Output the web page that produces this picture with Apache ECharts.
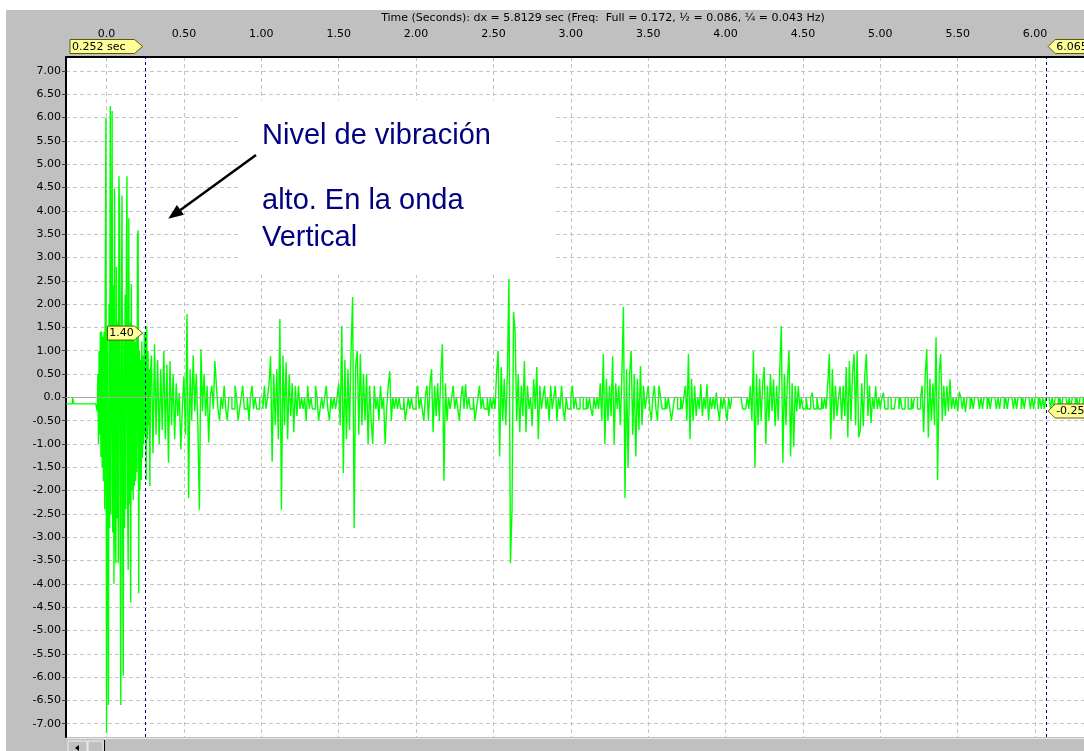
<!DOCTYPE html>
<html><head><meta charset="utf-8">
<script src="https://cdn.jsdelivr.net/npm/echarts@6/dist/echarts.min.js"></script>
<style>html,body{margin:0;padding:0;background:#fff}#c{width:1084px;height:751px}</style>
</head><body><div id="c"></div>
<script>
// ---------- axis ranges & ticks ----------
const xMin = -0.262, xMax = 6.316;
const yMin = -7.285, yMax = 7.30;
const xTicks = [0, 0.5, 1, 1.5, 2, 2.5, 3, 3.5, 4, 4.5, 5, 5.5, 6];
const xTickLabels = ['0.0','0.50','1.00','1.50','2.00','2.50','3.00','3.50','4.00','4.50','5.00','5.50','6.00'];
const yTicks = [7, 6.5, 6, 5.5, 5, 4.5, 4, 3.5, 3, 2.5, 2, 1.5, 1, 0.5, 0, -0.5, -1, -1.5, -2, -2.5, -3, -3.5, -4, -4.5, -5, -5.5, -6, -6.5, -7];
const yTickLabels = ['7.00','6.50','6.00','5.50','5.00','4.50','4.00','3.50','3.00','2.50','2.00','1.50','1.00','0.50','0.0','-0.50','-1.00','-1.50','-2.00','-2.50','-3.00','-3.50','-4.00','-4.50','-5.00','-5.50','-6.00','-6.50','-7.00'];
const axisTitle = 'Time (Seconds): dx = 5.8129 sec (Freq:  Full = 0.172, \u00bd = 0.086, \u00bc = 0.043 Hz)';

// ---------- cursors ----------
const cursorTimes = [0.252, 6.065];
const cursorTimeLabels = ['0.252 sec', '6.065 sec'];
const cursorValues = [1.40, -0.25];
const cursorValueLabels = ['1.40', '-0.25'];

// ---------- annotation ----------
const noteLines = ['Nivel de vibración', 'alto. En la onda', 'Vertical'];

// ---------- waveform samples (amplitude) ----------
const sampleStep = 0.01;    // s, most segments
const impactStep = 0.004;   // s, dense impact segment
const preTrigger = [-0.14,-0.14,-0.14,-0.14,0.0,-0.14,-0.14,-0.14,-0.14,-0.14,-0.14,-0.14,-0.14,-0.14,-0.14,-0.14,-0.14,-0.14,-0.14,-0.14];
const impact = [-0.3,0.5,-1.0,1.0,-0.8,1.4,-1.28,1.42,-1.5,1.3,-1.8,1.4,-2.4,2.6,6.0,-7.2,1.5,-2.6,-6.6,2.0,-2.8,6.25,-2.5,1.8,6.14,-2.9,2.4,-4.0,4.48,-2.7,-3.56,2.8,-2.6,1.6,-3.56,4.74,3.94,-2.8,-6.6,1.9,4.33,-2.6,-5.97,1.5,-2.8,2.2,-2.4,2.9,4.74,-2.2,-3.7,3.84,-2.3,1.6,-4.4,2.43,-2.0,1.5,-2.2,1.4,-1.9,1.2,-1.8,1.3,-1.6,3.45,3.58,-4.2,1.0,-2.0,0.8,-1.77,1.2,-1.3,0.9,-1.0,1.4,-0.8,1.4,-1.77,1.53,-0.9,1.0,-0.6,0.6,-1.9,0.5];
const tail = [0.9,-1.2,1.14,-0.8,0.8,-1.0,0.6,-0.7,1.0,-0.9,0.7,-1.4,0.78,-0.6,0.5,-0.9,0.3,-0.4,0.1,-1.12,-0.2,0.45,-0.8,1.79,-2.16,0.6,-0.5,0.9,-0.3,0.5,-0.6,-2.41,1.03,-0.3,0.5,-0.4,0.25,-0.97,0.0,0.25,-0.25,0.78];
const noise1 = [0.25,-0.25,-0.5,0,-0.25,0.25,-0.25,-0.5,0,0,-0.25,-0.25,0.25,0,-0.5,-0.25,0,0.25,-0.25,-0.25,0,-0.5,0,0.25,-0.25,0,-0.25,-0.25,0,0,-0.25,0.25,-0.25,0];
const burst2 = [0.3,0.88,-1.38,0.5,-0.6,0.6,-0.9,1.68,-2.41,0.9,-0.6,0.75,-0.9,0.5,-0.4,0.3,-0.75,0.25,-0.4,0.25,-0.25,0];
const noise2 = [-0.25,0,-0.5,0.25,-0.25,0,-0.25,-0.25,0.25,0,-0.5,-0.25,0,-0.25,0,0.25,-0.25,-0.5,0,-0.25,0,-0.25,0];
const burst3 = [0.3,-0.6,1.53,-1.62,0.8,-0.9,0.6,-0.7,1.0,2.15,-2.8,0.7,1.0,-0.8,0.93,-0.6,0.5,-0.5,0.5,-1.0,0.25,-0.5,-1.0,0.25,-0.25,0,-0.5,0.25,-0.25,0,-1.0,-0.25,0.25,0.56,-0.5,0,-0.25,0,-0.25];
const noise3 = [0,-0.25,-0.25,0,-0.5,-0.25,0,-0.25,0,-0.25,-0.25,0,0.25,-0.25,0,-0.25,-0.5,0];
const burst4 = [0.25,-0.5,0.3,0.6,-0.75,0.25,-0.4,0.3,-0.5,0.5,1.14,-1.79,0.3,-0.5,0,-0.25];
const noise4 = [0,0.25,-0.25,0,-0.25,-0.5,0,0.25,-0.25,0.28,-0.25,0,-0.25,-0.25,0,-0.5,-0.25,0,0.25,-0.25,0,-0.25,-0.25,0,-0.4,0,-0.25,0,-0.25];
const burst5 = [0.5,1.0,-1.27,0.65,-0.5,0.4,-0.6,0.5,2.54,-3.56,-2.41,1.83,1.4,-0.5,0.5,-0.75,0.25,-0.4,0.78,-0.75,0.25,-0.25,0,-0.62,0.39,-0.25,0.65,-0.9,0.25,-0.25,0];
const noise5 = [0.25,-0.25,0,-0.5,0.25,-0.25,0,0.25,-0.5,0,-0.25,0.25,-0.25,-0.5,0,-0.25,-0.25,0,0.25,-0.25,0,-0.25,-0.25,0,0,-0.25,-0.25,0,-0.25,0,-0.25,-0.4,0,-0.25,0,-0.25];
const burst6 = [0.3,-0.5,0.93,-1.0,0.4,-0.5,0.25,-0.4,0.88,-1.0,0.3,-0.25,0.25,-0.6,0.5,1.94,-2.16,0.6,-1.5,0.5,1.0,-0.8,0.5,-1.27,0.4,-0.7,0.67,-0.6,0.25];
const noise6 = [-0.25,0,0.25,-0.25,-0.5,0,0.25,-0.25,-0.5,0.25,0,-0.25,-0.25,0,-0.25,0,-0.25,-0.5,-0.25,0,0,-0.25,-0.25,0,-0.25,0];
const burst7 = [0.25,-0.5,0.93,-0.9,0.4,-0.5,0.25,-0.4,0,-0.25,0.28,-0.4,0,-0.25,0.28,-0.5,0,-0.25,0];
const noise7 = [-0.25,0.1,-0.25,-0.5,0,-0.25,0,-0.25,-0.5,0,-0.25,0,0,0,0,0,0,0,-0.25,-0.25,-0.25,0,-0.25];
const burst8 = [0.25,-0.5,1.0,-1.5,0.5,-0.6,0.4,-0.5,0.3,0.65,-1.0,0.25,-0.5,0.5,-0.3,0.39,-0.62,0.25,-0.5,0.6,1.53,-1.4,0.5,-0.6,0.4,1.0,-1.27,0.3,-1.06,0.25,-0.3,0.24,-0.25,0];
const noise8 = [-0.25,-0.25,0,-0.25,-0.25,0,0.1,-0.25,-0.25,0,-0.25,-0.25,0,-0.25];
const burst9 = [0,-0.25,0.3,0.93,-0.9,0.6,-0.5,0.25,-0.4,0,0.24,-0.5,0.25,-0.4,0.65,-0.86,0.78,-0.5,0.5,0.93,-0.6,1.0,-0.86,-0.73,0.3,-0.62,0.5,0.93,-0.4,0.25,-0.55,0,-0.25,0.24,-0.25,0,-0.25];
const noise9 = [0,0.1,-0.25,-0.25,0,0,-0.25,-0.25,-0.25,0,0,-0.25,0,-0.25,-0.25,0,0,-0.25,-0.25,0,-0.25,0,0,-0.25,-0.25,0];
const burst10 = [0.25,-0.75,0.45,1.03,-0.86,0.4,-0.5,0.3,-0.6,1.29,-1.77,0.5,0.93,-0.5,0.25,-0.4,0.25,-0.3,0.39,-0.25,0,-0.25,0,-0.3];
const noise10 = [0.12,0,-0.25,0,-0.32,0,0,-0.25,0,-0.25,0,0,0,-0.25,0,-0.25,0,0,-0.25,0,-0.25,0,0,0,-0.25,0,-0.25,0,0,-0.25,0,-0.25,0,0,0,-0.25,0,-0.25,0,0,-0.25,0,-0.25,0,0,0,-0.25,0,-0.25,0,0,-0.25,0,-0.25,0,-0.25,0,0,0,-0.25,0,-0.25,0,0,-0.25,0,-0.25,0,0,0,-0.25,0,-0.25,0,0,-0.25,0,-0.25,0,0,-0.25,0];
// segment start times (s) and sample steps
const segmentStarts = [-0.26,-0.06,0.29,0.71,1.05,1.27,1.50,1.89,2.07,2.23,2.52,2.83,3.19,3.48,3.74,3.93,4.16,4.50,4.64,5.01,5.27,5.51];
const segmentValues = [preTrigger,impact,tail,noise1,burst2,noise2,burst3,noise3,burst4,noise4,burst5,noise5,burst6,noise6,burst7,noise7,burst8,noise8,burst9,noise9,burst10,noise10];

const wave = [];
segmentValues.forEach((vals, s) => {
  const step = vals === impact ? impactStep : sampleStep;
  vals.forEach((v, k) => wave.push([+(segmentStarts[s] + k * step).toFixed(4), v]));
});
wave.sort((a, b) => a[0] - b[0]);

const font = 'DejaVu Sans';
const lookup = (ticks, labels) => v => {
  const i = ticks.findIndex(t => Math.abs(t - v) < 1e-6);
  return i >= 0 ? labels[i] : '';
};

const chart = echarts.init(document.getElementById('c'), null, {renderer: 'canvas', width: 1084, height: 751});
chart.setOption({
  animation: false,
  backgroundColor: '#c0c0c0',
  grid: {left: 66, top: 57, right: 0, bottom: 14, show: true, backgroundColor: '#ffffff', borderWidth: 0},
  xAxis: {
    type: 'value', position: 'top', min: xMin, max: xMax,
    axisLine: {show: true, onZero: false, lineStyle: {color: '#000', width: 2}},
    axisTick: {show: false, customValues: xTicks},
    axisLabel: {customValues: xTicks, formatter: lookup(xTicks, xTickLabels), margin: 17, color: '#000', fontFamily: font, fontSize: 11},
    splitLine: {show: true, lineStyle: {color: '#c4c4c4', type: [4, 3], width: 1}}
  },
  yAxis: {
    type: 'value', min: yMin, max: yMax,
    axisLine: {show: true, onZero: false, lineStyle: {color: '#000', width: 2}},
    axisTick: {show: true, customValues: yTicks, length: 4, lineStyle: {color: '#404040'}},
    axisLabel: {customValues: yTicks, formatter: lookup(yTicks, yTickLabels), margin: 5, color: '#000', fontFamily: font, fontSize: 11},
    splitLine: {show: true, lineStyle: {color: '#c4c4c4', type: [4, 3], width: 1}}
  },
  series: [
    {type: 'line', data: [], silent: true, z: 1,
     markLine: {silent: true, symbol: 'none', animation: false, label: {show: false},
       lineStyle: {color: '#a8a8a8', type: 'solid', width: 1}, data: [{yAxis: 0}]}},
    {type: 'line', data: wave, step: 'end', symbol: 'none', showSymbol: false, silent: true, z: 2,
     lineStyle: {color: '#00ff00', width: 1.4}},
    {type: 'line', data: [], silent: true, z: 3,
     markLine: {silent: true, symbol: 'none', animation: false, label: {show: false},
       lineStyle: {color: '#000080', type: [3, 3], width: 1}, data: cursorTimes.map(t => ({xAxis: t}))}}
  ]
});

// ---------- overlay graphics (positions from the chart scales) ----------
const P = (t, v) => chart.convertToPixel({gridIndex: 0}, [t, v]);
const yellow = '#ffff99', edge = '#5a5a00';
const g = [];
g.push({type: 'rect', shape: {x: 0, y: 0, width: 1084, height: 10}, style: {fill: '#ffffff'}, z: 50});
g.push({type: 'rect', shape: {x: 0, y: 10, width: 6, height: 741}, style: {fill: '#ffffff'}, z: 50});
// scrollbar strip
g.push({type: 'rect', shape: {x: 66, y: 738, width: 1018, height: 13}, style: {fill: '#c0c0c0'}, z: 50});
g.push({type: 'line', shape: {x1: 66, y1: 738.5, x2: 1084, y2: 738.5}, style: {stroke: '#e8e8e8', lineWidth: 1}, z: 51});
g.push({type: 'rect', shape: {x: 68, y: 741, width: 19, height: 12}, style: {fill: '#c0c0c0', stroke: '#f0f0f0', lineWidth: 1}, z: 51});
g.push({type: 'polygon', shape: {points: [[75, 748], [79, 745], [79, 751]]}, style: {fill: '#000'}, z: 52});
g.push({type: 'rect', shape: {x: 88, y: 741, width: 15, height: 12}, style: {fill: '#c0c0c0', stroke: '#f0f0f0', lineWidth: 1}, z: 51});
g.push({type: 'line', shape: {x1: 104.5, y1: 740, x2: 104.5, y2: 751}, style: {stroke: '#000', lineWidth: 1}, z: 52});
// axis title
g.push({type: 'text', x: 603, y: 18, style: {text: axisTitle, fill: '#000', font: '11px "' + font + '"', align: 'center', verticalAlign: 'middle'}, z: 60});
// cursor time labels
const c0 = P(cursorTimes[0], 0)[0], c1 = P(cursorTimes[1], 0)[0];
g.push({type: 'polygon', shape: {points: [[70, 39.5], [c0 - 11, 39.5], [c0 - 3, 46.5], [c0 - 11, 53.5], [70, 53.5]]}, style: {fill: yellow, stroke: edge, lineWidth: 1}, z: 60});
g.push({type: 'text', x: 72, y: 47, style: {text: cursorTimeLabels[0], fill: '#000', font: '11px "' + font + '"', verticalAlign: 'middle'}, z: 61});
g.push({type: 'polygon', shape: {points: [[c1 + 3, 46.5], [c1 + 10, 39.5], [1100, 39.5], [1100, 53.5], [c1 + 10, 53.5]]}, style: {fill: yellow, stroke: edge, lineWidth: 1}, z: 60});
g.push({type: 'text', x: c1 + 11, y: 47, style: {text: cursorTimeLabels[1], fill: '#000', font: '11px "' + font + '"', verticalAlign: 'middle'}, z: 61});
// cursor value labels
const v0 = P(cursorTimes[0], cursorValues[0]), v1 = P(cursorTimes[1], cursorValues[1]);
g.push({type: 'polygon', shape: {points: [[v0[0] - 38, v0[1] - 6], [v0[0] - 11, v0[1] - 6], [v0[0] - 3, v0[1] + 1], [v0[0] - 11, v0[1] + 8], [v0[0] - 38, v0[1] + 8]]}, style: {fill: yellow, stroke: edge, lineWidth: 1}, z: 60});
g.push({type: 'text', x: v0[0] - 24, y: v0[1] + 1.5, style: {text: cursorValueLabels[0], fill: '#000', font: '11px "' + font + '"', align: 'center', verticalAlign: 'middle'}, z: 61});
g.push({type: 'polygon', shape: {points: [[v1[0] + 3, v1[1] + 2], [v1[0] + 10, v1[1] - 5], [1100, v1[1] - 5], [1100, v1[1] + 9], [v1[0] + 10, v1[1] + 9]]}, style: {fill: yellow, stroke: edge, lineWidth: 1}, z: 60});
g.push({type: 'text', x: v1[0] + 11, y: v1[1] + 2.5, style: {text: cursorValueLabels[1], fill: '#000', font: '11px "' + font + '"', verticalAlign: 'middle'}, z: 61});
// annotation box, text and arrow
g.push({type: 'rect', shape: {x: 240, y: 100, width: 315, height: 175}, style: {fill: '#ffffff'}, z: 10});
const noteY = [136, 201, 238];
noteLines.forEach((s, i) => g.push({type: 'text', x: 262, y: noteY[i], style: {text: s, fill: '#000080', font: '29px "Liberation Sans", Arial, sans-serif', verticalAlign: 'middle'}, z: 11}));
const tip = [168.3, 218.8], tailPt = [256, 155];
const dx = tip[0] - tailPt[0], dy = tip[1] - tailPt[1], L = Math.hypot(dx, dy);
const ux = dx / L, uy = dy / L, hl = 15, hw = 6;
const bx = tip[0] - ux * hl, by = tip[1] - uy * hl;
g.push({type: 'line', shape: {x1: tailPt[0], y1: tailPt[1], x2: bx, y2: by}, style: {stroke: '#000', lineWidth: 2.5}, z: 11});
g.push({type: 'polygon', shape: {points: [tip, [bx - uy * hw, by + ux * hw], [bx + uy * hw, by - ux * hw]]}, style: {fill: '#000'}, z: 11});
chart.setOption({graphic: g});
</script></body></html>
